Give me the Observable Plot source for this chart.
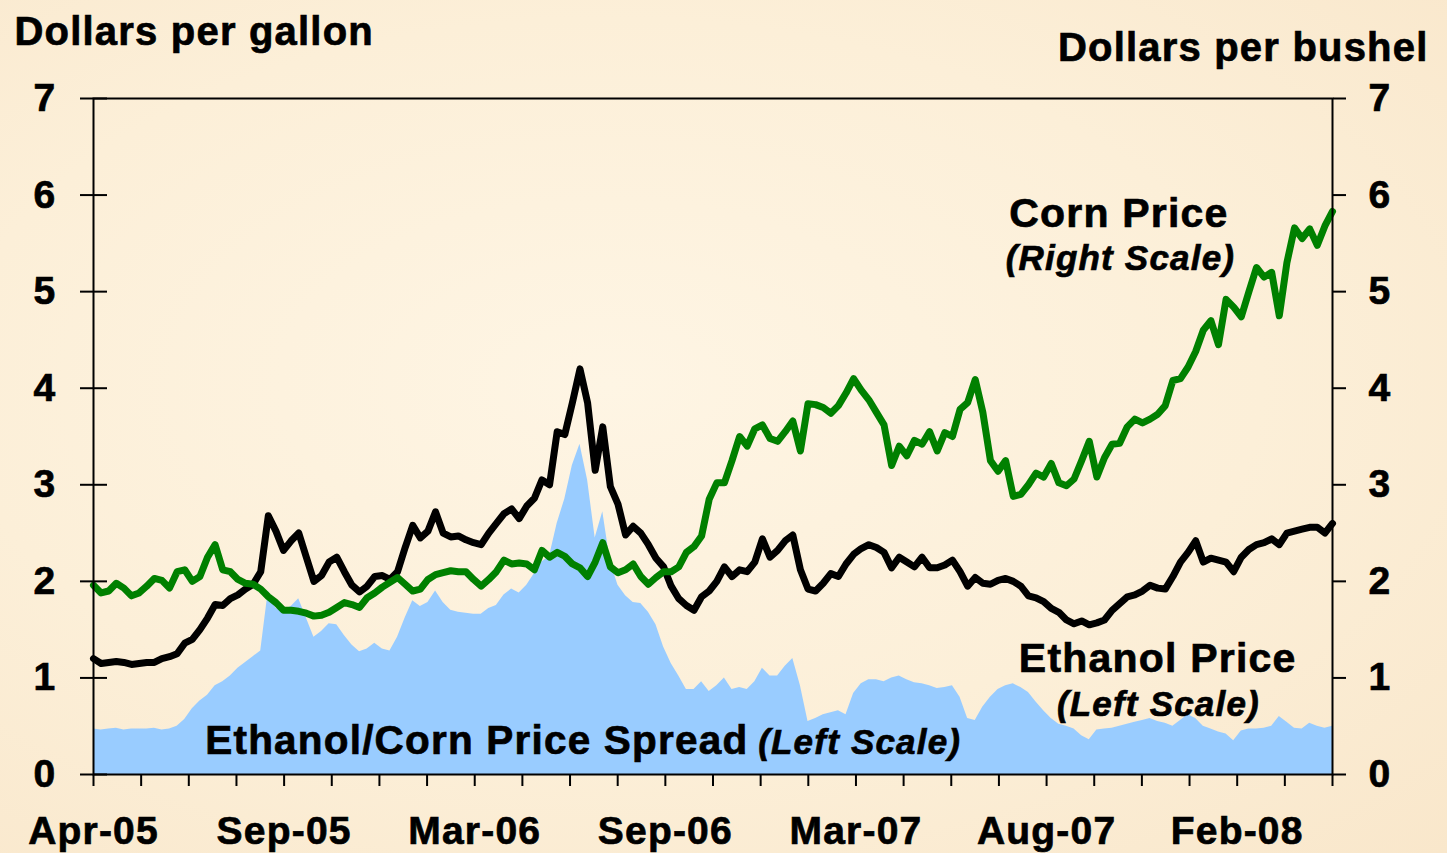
<!DOCTYPE html>
<html>
<head>
<meta charset="utf-8">
<script src="https://cdn.jsdelivr.net/npm/d3@7"></script>
<script src="https://cdn.jsdelivr.net/npm/@observablehq/plot@0.6"></script>
<style>
  html, body { margin: 0; padding: 0; width: 1447px; height: 853px; overflow: hidden; }
  body { background: radial-gradient(ellipse at 42% 45%, #fef5e4 0%, #fcefd8 55%, #f9e7cb 100%); }
  #chart svg { display: block; }
  #chart svg text { letter-spacing: 1.2px; stroke: black; stroke-width: 0.7px; }
</style>
</head>
<body>
<div id="chart"></div>
<script>
// Weekly observations, Apr-2005 .. mid-2008 (dollars)
const ethanolPrice = [
  1.20,1.15,1.16,1.17,1.16,1.14,1.15,1.16,1.16,1.20,
  1.22,1.25,1.36,1.40,1.50,1.62,1.76,1.75,1.82,1.86,
  1.92,1.97,2.10,2.68,2.52,2.32,2.42,2.50,2.25,2.00,
  2.06,2.20,2.25,2.10,1.96,1.89,1.95,2.05,2.06,2.02,
  2.10,2.35,2.58,2.45,2.52,2.72,2.50,2.46,2.47,2.43,
  2.40,2.38,2.50,2.60,2.70,2.75,2.65,2.78,2.86,3.05,
  3.00,3.55,3.52,3.85,4.20,3.85,3.15,3.60,2.98,2.80,
  2.48,2.57,2.50,2.38,2.24,2.15,1.95,1.82,1.75,1.70,
  1.84,1.90,2.00,2.15,2.05,2.12,2.10,2.20,2.44,2.25,
  2.32,2.42,2.48,2.12,1.92,1.90,1.98,2.08,2.05,2.18,
  2.28,2.34,2.38,2.35,2.30,2.14,2.25,2.20,2.15,2.25,
  2.14,2.14,2.17,2.22,2.10,1.95,2.04,1.98,1.97,2.01,
  2.03,2.00,1.95,1.85,1.83,1.79,1.72,1.68,1.60,1.56,
  1.59,1.55,1.57,1.60,1.70,1.77,1.84,1.86,1.90,1.96,
  1.93,1.92,2.05,2.20,2.30,2.42,2.20,2.24,2.22,2.20,
  2.10,2.25,2.33,2.38,2.40,2.44,2.38,2.50,2.52,2.54,
  2.56,2.56,2.50,2.60
];
const cornPrice = [
  1.96,1.88,1.90,1.98,1.93,1.85,1.88,1.95,2.03,2.01,
  1.93,2.10,2.12,2.00,2.05,2.25,2.38,2.12,2.10,2.02,
  1.98,1.97,1.92,1.84,1.78,1.70,1.70,1.69,1.67,1.64,
  1.65,1.68,1.73,1.78,1.76,1.73,1.83,1.88,1.94,1.99,
  2.04,1.97,1.90,1.92,2.02,2.07,2.09,2.11,2.10,2.10,
  2.02,1.95,2.02,2.10,2.22,2.18,2.19,2.18,2.12,2.32,
  2.25,2.30,2.26,2.18,2.14,2.05,2.20,2.40,2.15,2.09,
  2.12,2.18,2.05,1.97,2.04,2.10,2.10,2.15,2.30,2.36,
  2.47,2.85,3.02,3.02,3.25,3.50,3.40,3.58,3.62,3.48,
  3.45,3.55,3.66,3.35,3.84,3.83,3.80,3.74,3.82,3.95,
  4.10,3.98,3.88,3.75,3.62,3.20,3.40,3.30,3.46,3.42,
  3.55,3.35,3.54,3.50,3.78,3.85,4.09,3.75,3.25,3.14,
  3.25,2.88,2.90,3.00,3.12,3.08,3.22,3.02,2.99,3.06,
  3.25,3.45,3.08,3.28,3.42,3.43,3.60,3.68,3.64,3.68,
  3.73,3.82,4.08,4.10,4.22,4.38,4.60,4.70,4.45,4.92,
  4.84,4.74,5.00,5.25,5.15,5.20,4.75,5.30,5.66,5.55,
  5.65,5.48,5.68,5.83
];
const priceSpread = [
  0.47,0.46,0.47,0.48,0.46,0.47,0.47,0.47,0.48,0.46,
  0.47,0.50,0.57,0.68,0.76,0.82,0.92,0.96,1.02,1.10,
  1.16,1.22,1.28,1.90,1.72,1.70,1.74,1.82,1.62,1.42,
  1.48,1.56,1.55,1.44,1.34,1.27,1.30,1.36,1.30,1.28,
  1.42,1.62,1.80,1.74,1.78,1.90,1.78,1.70,1.68,1.67,
  1.66,1.66,1.72,1.75,1.86,1.92,1.88,1.96,2.08,2.20,
  2.26,2.60,2.85,3.20,3.42,3.05,2.45,2.72,2.20,1.96,
  1.85,1.78,1.77,1.68,1.55,1.32,1.15,1.02,0.88,0.88,
  0.96,0.86,0.92,1.00,0.88,0.90,0.88,0.96,1.10,1.02,
  1.02,1.12,1.20,0.92,0.55,0.58,0.62,0.64,0.66,0.62,
  0.84,0.94,0.98,0.98,0.96,1.00,1.02,0.98,0.95,0.94,
  0.92,0.89,0.90,0.92,0.80,0.58,0.56,0.70,0.80,0.88,
  0.92,0.94,0.90,0.85,0.75,0.66,0.58,0.52,0.50,0.47,
  0.40,0.36,0.46,0.47,0.48,0.50,0.52,0.54,0.56,0.58,
  0.55,0.53,0.50,0.56,0.62,0.58,0.50,0.47,0.44,0.42,
  0.35,0.45,0.47,0.47,0.48,0.50,0.60,0.54,0.48,0.47,
  0.53,0.50,0.48,0.50
];
const xTickLabels = ["Apr-05","Sep-05","Mar-06","Sep-06","Mar-07","Aug-07","Feb-08"];
const yTicks = [0, 1, 2, 3, 4, 5, 6, 7];

// annotation labels (position in week index / dollars)
const annText   = ["Corn Price", "(Right Scale)", "Ethanol Price", "(Left Scale)", "Ethanol/Corn Price Spread", "(Left Scale)"];
const annWeek   = [134.9, 135.1, 140.0, 140.1, 14.7, 100.8];
const annValue  = [5.81, 5.34, 1.20, 0.72, 0.35, 0.33];
const annItalic = [false, true, false, true, false, true];
const annAnchor = ["middle", "middle", "middle", "middle", "start", "middle"];

const rows = ethanolPrice.map((e, i) => ({week: i, ethanol: e, corn: cornPrice[i], spread: priceSpread[i]}));
const anns = annText.map((t, i) => ({text: t, week: annWeek[i], value: annValue[i], italic: annItalic[i], anchor: annAnchor[i]}));

const nWeeks = ethanolPrice.length - 1;
const minorStep = nWeeks / 26;
const xTicks = d3.range(27).map(k => k * minorStep);
const xFmt = d => { const k = Math.round(d / minorStep); return k % 4 === 0 && xTickLabels[k / 4] ? xTickLabels[k / 4] : ""; };

const font = "'Liberation Sans', Arial, sans-serif";
const pick = (italic, anchor) => anns.filter(d => d.italic === italic && d.anchor === anchor);

const chart = Plot.plot({
  width: 1447,
  height: 853,
  marginLeft: 93,
  marginRight: 115,
  marginTop: 98,
  marginBottom: 79,
  style: {background: "none", fontFamily: font, color: "black"},
  x: {domain: [0, nWeeks]},
  y: {domain: [0, 7]},
  marks: [
    Plot.areaY(rows, {x: "week", y: "spread", fill: "#99ccff"}),
    Plot.lineY(rows, {x: "week", y: "ethanol", stroke: "black", strokeWidth: 7, strokeLinejoin: "round", strokeLinecap: "round"}),
    Plot.lineY(rows, {x: "week", y: "corn", stroke: "#008000", strokeWidth: 7, strokeLinejoin: "round", strokeLinecap: "round"}),
    Plot.frame({stroke: "black", strokeWidth: 2}),
    Plot.axisX(xTicks, {tickSize: 12, tickPadding: 30, strokeWidth: 2, tickFormat: xFmt, fontSize: 39, fontWeight: "bold", label: null}),
    Plot.axisY(yTicks, {anchor: "left", tickSize: 27, dx: 14, tickPadding: 24, strokeWidth: 2, tickFormat: d => String(d), fontSize: 39, fontWeight: "bold", label: null}),
    Plot.axisY(yTicks, {anchor: "right", tickSize: 13, tickPadding: 23, strokeWidth: 2, tickFormat: d => String(d), fontSize: 39, fontWeight: "bold", label: null}),
    Plot.text(["Dollars per gallon"], {frameAnchor: "top-left", dx: -79, dy: -66, textAnchor: "start", lineAnchor: "middle", fontSize: 40, fontWeight: "bold", fill: "black"}),
    Plot.text(["Dollars per bushel"], {frameAnchor: "top-right", dx: 96, dy: -50, textAnchor: "end", lineAnchor: "middle", fontSize: 40, fontWeight: "bold", fill: "black"}),
    Plot.text(pick(false, "middle"), {x: "week", y: "value", text: "text", textAnchor: "middle", lineAnchor: "middle", fontSize: 41, fontWeight: "bold", fill: "black"}),
    Plot.text(pick(false, "start"), {x: "week", y: "value", text: "text", textAnchor: "start", lineAnchor: "middle", fontSize: 40.5, fontWeight: "bold", fill: "black"}),
    Plot.text(pick(true, "middle"), {x: "week", y: "value", text: "text", textAnchor: "middle", lineAnchor: "middle", fontSize: 35, fontWeight: "bold", fontStyle: "italic", fill: "black"})
  ]
});
document.getElementById("chart").append(chart);
</script>
</body>
</html>
